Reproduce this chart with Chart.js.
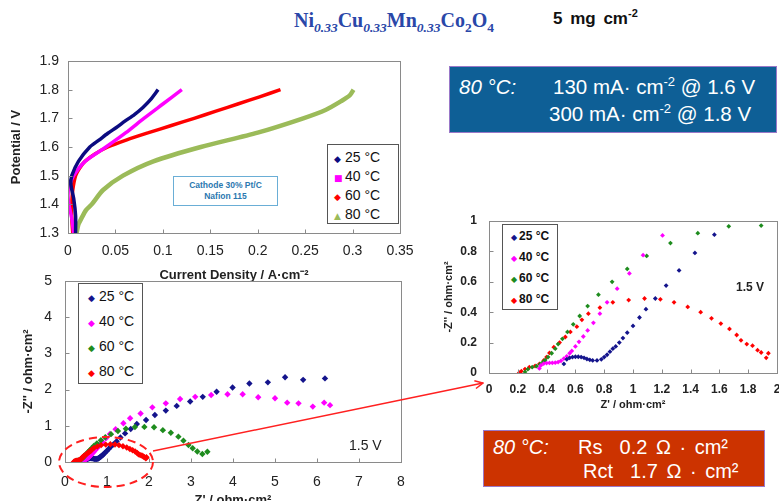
<!DOCTYPE html>
<html>
<head>
<meta charset="utf-8">
<script src="https://cdn.jsdelivr.net/npm/chart.js@4.4.1/dist/chart.umd.min.js"></script>
<style>
  body { margin: 0; width: 779px; height: 501px; overflow: hidden; position: relative; background: #fff;
         font-family: 'Liberation Sans', Arial, sans-serif; }
  .abs { position: absolute; }
  .chartbox { position: absolute; }
  .legend { position: absolute; border: 1px solid #555; background: #fff; box-sizing: border-box; }
  .legend div { position: absolute; white-space: nowrap; color: #111; }
  .legend span { display: inline-block; font-family: 'DejaVu Sans', sans-serif; }
  .white { color: #fff; white-space: pre; }
  sub, sup { line-height: 0; }
</style>
</head>
<body>

<div class="abs" style="left:294px;top:9px;font:bold 20px 'Liberation Serif',serif;color:#2a47a8;white-space:nowrap">Ni<sub style="font-size:13.5px;font-style:italic">0.33</sub>Cu<sub style="font-size:13.5px;font-style:italic">0.33</sub>Mn<sub style="font-size:13.5px;font-style:italic">0.33</sub>Co<sub style="font-size:13.5px">2</sub>O<sub style="font-size:13.5px">4</sub></div>
<div class="abs" style="left:553px;top:9px;font:bold 17px 'Liberation Sans',Arial;color:#111;white-space:nowrap;word-spacing:3px">5 mg cm<sup style="font-size:11px">-2</sup></div>

<div class="abs" style="left:449px;top:66px;width:328px;height:67px;background:#0e5f96;border:1.5px solid #9a78c8;box-sizing:border-box"></div>
<div class="abs white" style="left:459px;top:75px;font:italic 20.5px 'Liberation Sans'">80 °C:</div>
<div class="abs white" style="left:553px;top:75px;font:20.5px 'Liberation Sans'">130 mA· cm<sup style="font-size:13px">-2</sup> @ 1.6 V</div>
<div class="abs white" style="left:549px;top:102px;font:20.5px 'Liberation Sans'">300 mA· cm<sup style="font-size:13px">-2</sup> @ 1.8 V</div>

<div class="abs" style="left:483px;top:430px;width:282px;height:57px;background:#cc3300;border:1.5px solid #9a78c8;box-sizing:border-box"></div>
<div class="abs white" style="left:493px;top:436px;font:italic 20px 'Liberation Sans'">80 °C:</div>
<div class="abs white" style="left:578px;top:436px;font:20px 'Liberation Sans';word-spacing:3px">Rs  0.2 Ω · cm²</div>
<div class="abs white" style="left:583px;top:460px;font:20px 'Liberation Sans';word-spacing:3px">Rct  1.7 Ω · cm²</div>

<div class="chartbox" style="left:0;top:48px;width:420px;height:240px"><canvas id="pol"></canvas></div>
<div class="chartbox" style="left:0;top:270px;width:410px;height:245px"><canvas id="eis"></canvas></div>
<div class="chartbox" style="left:420px;top:200px;width:369px;height:215px"><canvas id="inset"></canvas></div>

<div class="abs" style="left:173px;top:176px;width:105px;height:30px;border:1px solid #6aaed6;box-sizing:border-box;background:#fff;color:#2b78b0;font:bold 8.5px 'Liberation Sans';text-align:center;line-height:11px;padding-top:3px">Cathode 30% Pt/C<br>Nafion 115</div>

<div id="leg1" class="legend" style="left:327px;top:144px;width:72px;height:80px"></div>
<div id="leg2" class="legend" style="left:78px;top:283px;width:65px;height:101px"></div>
<div id="leg3" class="legend" style="left:502px;top:224px;width:56px;height:86px"></div>

<div class="abs" style="left:349px;top:437px;font:14px 'Liberation Sans';color:#222">1.5 V</div>
<div class="abs" style="left:736px;top:280px;font:bold 12px 'Liberation Sans';color:#222">1.5 V</div>

<svg class="abs" style="left:0;top:0;pointer-events:none" width="779" height="501">
  <defs>
    <marker id="ah" markerWidth="10" markerHeight="10" refX="9" refY="5" orient="auto" markerUnits="userSpaceOnUse">
      <path d="M1,1 L9,5 L1,9" fill="none" stroke="#ff2020" stroke-width="1.5"/>
    </marker>
  </defs>
  <ellipse cx="106" cy="462" rx="47" ry="25" fill="none" stroke="#ff2020" stroke-width="2" stroke-dasharray="8 5"/>
  <line x1="153" y1="451" x2="483" y2="383" stroke="#ff2020" stroke-width="1.5" marker-end="url(#ah)"/>
</svg>

<script>
// legend labels and colours
const temps = ['25 °C', '40 °C', '60 °C', '80 °C'];
const polColors = ['#0b0b80', '#ff00ff', '#ff0000', '#9bbb59'];
const polMarkers = ['◆', '■', '◆', '▲'];
const eisColors = ['#14148c', '#ff00ff', '#1e8c1e', '#ff0000'];

// polarisation curves: [current density A/cm2, potential V]
const pol25 = [[0.008,1.30],[0.008,1.36],[0.006,1.42],[0.003,1.47],[0.004,1.50],[0.011,1.55],[0.023,1.60],
  [0.033,1.625],[0.042,1.648],[0.051,1.668],[0.060,1.69],[0.070,1.713],[0.079,1.738],[0.087,1.765],[0.095,1.80]];
const pol40 = [[0.006,1.30],[0.004,1.35],[0.001,1.40],[0.000,1.43],[0.001,1.46],[0.006,1.50],[0.018,1.55],
  [0.040,1.60],[0.061,1.65],[0.080,1.70],[0.100,1.75],[0.120,1.80]];
const pol60 = [[0.005,1.30],[0.004,1.35],[0.004,1.40],[0.005,1.45],[0.008,1.50],[0.012,1.525],[0.018,1.55],[0.028,1.575],
  [0.042,1.60],[0.062,1.625],[0.085,1.65],[0.109,1.675],[0.133,1.70],[0.156,1.725],[0.179,1.75],[0.202,1.775],[0.224,1.80]];
const pol80 = [[0.009,1.30],[0.011,1.33],[0.014,1.35],[0.019,1.38],[0.025,1.40],[0.037,1.45],[0.058,1.50],[0.090,1.55],
  [0.140,1.60],[0.200,1.65],[0.248,1.70],[0.272,1.73],[0.288,1.76],[0.297,1.78],[0.301,1.80]];

// impedance spectra at 1.5 V: [Z', -Z''] in ohm cm2
const eis25 = [[0.52,0.06],[0.54,0.09],[0.56,0.10],[0.58,0.105],[0.60,0.107],[0.62,0.107],[0.64,0.105],[0.66,0.10],
  [0.68,0.092],[0.70,0.087],[0.72,0.083],[0.75,0.083],[0.78,0.09],[0.80,0.105],[0.82,0.12],[0.84,0.14],[0.86,0.16],
  [0.88,0.175],[0.905,0.20],[0.93,0.23],[0.96,0.265],[1.00,0.31],[1.045,0.365],[1.09,0.42],[1.155,0.49],[1.23,0.575],
  [1.32,0.675],[1.43,0.79],[1.565,0.91],[1.71,1.05],[1.93,1.16],[2.14,1.30],[2.40,1.42],[2.66,1.55],[2.98,1.67],
  [3.28,1.80],[3.61,1.94],[3.99,2.06],[4.39,2.17],[4.83,2.20],[5.24,2.34],[5.67,2.27],[6.19,2.31]];
const eis40 = [[0.35,0.03],[0.36,0.05],[0.38,0.062],[0.40,0.065],[0.42,0.066],[0.44,0.067],[0.46,0.068],[0.48,0.072],
  [0.50,0.08],[0.52,0.095],[0.54,0.11],[0.56,0.13],[0.575,0.145],[0.60,0.175],[0.625,0.205],[0.655,0.24],[0.685,0.28],
  [0.725,0.33],[0.77,0.39],[0.82,0.465],[0.89,0.555],[0.975,0.655],[1.07,0.775],[1.205,0.905],[1.39,1.07],[1.55,1.21],
  [1.80,1.34],[2.08,1.51],[2.40,1.62],[2.74,1.74],[3.10,1.80],[3.48,1.85],[3.87,1.87],[4.23,1.87],[4.60,1.79],
  [5.00,1.76],[5.29,1.64],[5.56,1.62],[5.90,1.53],[6.17,1.64],[6.31,1.57]];
const eis60 = [[0.25,0.007],[0.27,0.025],[0.30,0.038],[0.33,0.045],[0.355,0.058],[0.375,0.072],[0.39,0.085],[0.41,0.105],
  [0.435,0.13],[0.46,0.16],[0.48,0.19],[0.51,0.225],[0.545,0.27],[0.585,0.32],[0.63,0.375],[0.685,0.44],[0.76,0.515],
  [0.855,0.60],[0.96,0.685],[1.095,0.77],[1.26,0.855],[1.45,0.92],[1.665,0.965],[1.89,0.97],[2.12,0.96],[2.33,0.88],
  [2.52,0.81],[2.70,0.70],[2.82,0.59],[2.94,0.47],[3.04,0.38],[3.15,0.29],[3.27,0.22],[3.39,0.285]];
const eis80 = [[0.21,0.002],[0.225,0.012],[0.25,0.026],[0.28,0.038],[0.32,0.046],[0.35,0.06],[0.38,0.083],[0.40,0.105],
  [0.42,0.132],[0.45,0.17],[0.49,0.20],[0.53,0.237],[0.565,0.27],[0.61,0.305],[0.645,0.35],[0.69,0.39],[0.77,0.43],
  [0.86,0.465],[0.97,0.48],[1.08,0.49],[1.19,0.485],[1.285,0.465],[1.38,0.435],[1.47,0.40],[1.545,0.36],[1.61,0.325],
  [1.67,0.29],[1.72,0.25],[1.75,0.215],[1.79,0.19],[1.83,0.18],[1.865,0.15],[1.89,0.135],[1.925,0.10],[1.94,0.13]];

const polSeries = [pol25, pol40, pol60, pol80];
const eisSeries = [eis25, eis40, eis60, eis80];

const xy = arr => arr.map(p => ({ x: p[0], y: p[1] }));

Chart.defaults.font.family = "'Liberation Sans', Arial, sans-serif";
Chart.defaults.color = '#222';

// frame round the plot area and short inward tick marks
const framePlugin = {
  id: 'frame',
  afterDatasetsDraw(chart, args, opts) {
    const { ctx, chartArea: a, scales } = chart;
    ctx.save();
    ctx.strokeStyle = opts.color || '#888';
    ctx.lineWidth = 1;
    const l = Math.round(a.left) + 0.5, t = Math.round(a.top) + 0.5;
    const r = Math.round(a.right) + 0.5, b = Math.round(a.bottom) + 0.5;
    ctx.strokeRect(l, t, r - l, b - t);
    ctx.beginPath();
    scales.x.ticks.forEach((tk, i) => {
      const px = Math.round(scales.x.getPixelForTick(i)) + 0.5;
      ctx.moveTo(px, b); ctx.lineTo(px, b - 4);
    });
    scales.y.ticks.forEach((tk, i) => {
      const py = Math.round(scales.y.getPixelForTick(i)) + 0.5;
      ctx.moveTo(l, py); ctx.lineTo(l + 4, py);
    });
    ctx.stroke();
    ctx.restore();
  }
};

// fixed axis sizes so the plot areas land where the slide has them
const fixX = h => s => { s.height = h; s.paddingLeft = 0; s.paddingRight = 0; };
const fixY = w => s => { s.width = w; s.paddingTop = 0; s.paddingBottom = 0; };
const noGrid = { display: false, drawTicks: false };

function makeLegend(id, colors, markers, fontCss, rowTops, markerLeft, textLeft, markerSize) {
  const el = document.getElementById(id);
  temps.forEach((t, i) => {
    const row = document.createElement('div');
    row.style.top = rowTops[i] + 'px';
    row.style.left = markerLeft + 'px';
    row.style.font = fontCss;
    row.innerHTML = '<span style="color:' + colors[i] + ';font-size:' + markerSize + 'px;width:' + (textLeft - markerLeft) + 'px">' +
      markers[i] + '</span>' + t;
    el.appendChild(row);
  });
}

makeLegend('leg1', polColors, polMarkers, "14px 'Liberation Sans'", [4, 23, 42, 61], 6, 17, 9);
makeLegend('leg2', eisColors, ['◆', '◆', '◆', '◆'], "14px 'Liberation Sans'", [4, 29, 54, 79], 9, 20, 9);
makeLegend('leg3', eisColors, ['◆', '◆', '◆', '◆'], "bold 12px 'Liberation Sans'", [4, 25, 46, 67], 8, 16, 8);

// polarisation curves
new Chart(document.getElementById('pol'), {
  type: 'scatter',
  data: {
    datasets: polSeries.map((s, i) => ({
      label: temps[i], data: xy(s), showLine: true, tension: 0.25,
      borderColor: polColors[i], backgroundColor: polColors[i],
      borderWidth: i === 3 ? 4.5 : 3.5, pointRadius: 0
    }))
  },
  options: {
    responsive: true, maintainAspectRatio: false, animation: false,
    layout: { autoPadding: false, padding: { top: 13, right: 20, left: 0, bottom: 0 } },
    plugins: { legend: { display: false }, tooltip: { enabled: false }, frame: { color: '#8a8a8a' } },
    scales: {
      x: {
        type: 'linear', min: 0, max: 0.35,
        grid: noGrid, border: { display: false },
        ticks: { stepSize: 0.05, padding: 10, font: { size: 14 }, maxRotation: 0, autoSkip: false,
                 callback: v => String(+v.toFixed(2)) },
        title: { display: true, text: 'Current Density / A·cm⁻²', font: { size: 13, weight: 'bold' }, padding: { top: 0, bottom: 5 } },
        afterFit: fixX(55)
      },
      y: {
        min: 1.3, max: 1.9,
        grid: noGrid, border: { display: false },
        ticks: { stepSize: 0.1, padding: 9, font: { size: 14 }, callback: v => (+v).toFixed(1) },
        title: { display: true, text: 'Potential / V', font: { size: 13, weight: 'bold' }, padding: { top: 9, bottom: 0 } },
        afterFit: fixY(68)
      }
    }
  },
  plugins: [framePlugin]
});

// impedance, full range
new Chart(document.getElementById('eis'), {
  type: 'scatter',
  data: {
    datasets: eisSeries.map((s, i) => ({
      label: temps[i], data: xy(s), pointStyle: 'rectRot', pointRadius: 3.2,
      borderWidth: 0, backgroundColor: eisColors[i], borderColor: eisColors[i], order: 3 - i
    }))
  },
  options: {
    responsive: true, maintainAspectRatio: false, animation: false,
    layout: { autoPadding: false, padding: { top: 11, right: 9, left: 0, bottom: 0 } },
    plugins: { legend: { display: false }, tooltip: { enabled: false }, frame: { color: '#8a8a8a' } },
    scales: {
      x: {
        type: 'linear', min: 0, max: 8,
        grid: noGrid, border: { display: false },
        ticks: { stepSize: 1, padding: 12, font: { size: 14 }, maxRotation: 0, autoSkip: false },
        title: { display: true, text: "Z' / ohm·cm²", font: { size: 13, weight: 'bold' }, padding: { top: 0, bottom: 7 } },
        afterFit: fixX(53)
      },
      y: {
        min: 0, max: 5,
        grid: noGrid, border: { display: false },
        ticks: { stepSize: 1, padding: 13, font: { size: 14 } },
        title: { display: true, text: "-Z'' / ohm·cm²", font: { size: 13, weight: 'bold' }, padding: { top: 21, bottom: 0 } },
        afterFit: fixY(65)
      }
    }
  },
  plugins: [framePlugin]
});

// impedance, zoomed
new Chart(document.getElementById('inset'), {
  type: 'scatter',
  data: {
    datasets: eisSeries.map((s, i) => ({
      label: temps[i], data: xy(s), pointStyle: 'rectRot', pointRadius: 2.4,
      borderWidth: 0, backgroundColor: eisColors[i], borderColor: eisColors[i]
    }))
  },
  options: {
    responsive: true, maintainAspectRatio: false, animation: false,
    layout: { autoPadding: false, padding: { top: 21, right: 12, left: 0, bottom: 0 } },
    plugins: { legend: { display: false }, tooltip: { enabled: false }, frame: { color: '#8a8a8a' } },
    scales: {
      x: {
        type: 'linear', min: 0, max: 2,
        grid: noGrid, border: { display: false },
        ticks: { stepSize: 0.2, padding: 9, font: { size: 12, weight: 'bold' }, maxRotation: 0, autoSkip: false,
                 callback: v => String(+v.toFixed(1)) },
        title: { display: true, text: "Z' / ohm·cm²", font: { size: 11, weight: 'bold' }, padding: { top: 0, bottom: 3 } },
        afterFit: fixX(42)
      },
      y: {
        min: 0, max: 1,
        grid: noGrid, border: { display: false },
        ticks: { stepSize: 0.2, padding: 12, font: { size: 12, weight: 'bold' }, callback: v => String(+v.toFixed(1)) },
        title: { display: true, text: "-Z'' / ohm·cm²", font: { size: 11, weight: 'bold' }, padding: { top: 22, bottom: 0 } },
        afterFit: fixY(69)
      }
    }
  },
  plugins: [framePlugin]
});
</script>
</body>
</html>
